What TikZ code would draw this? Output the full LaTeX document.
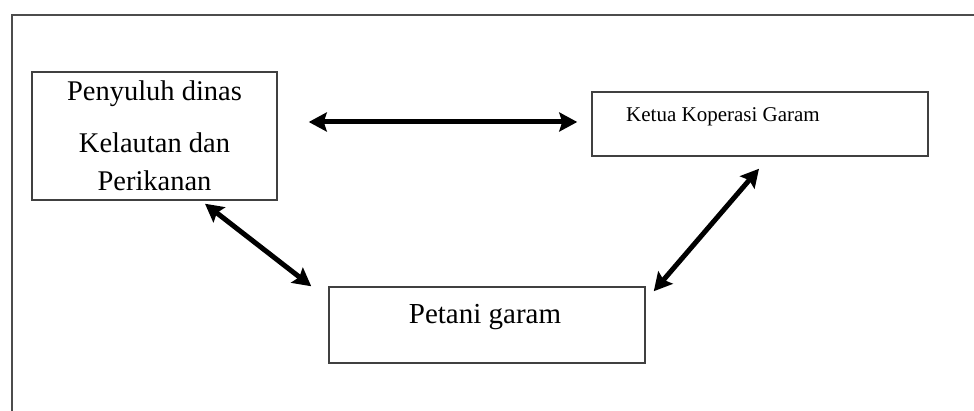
\documentclass[tikz,border=0pt]{standalone}
\usepackage{fontspec}
\setmainfont{Liberation Serif}
\usetikzlibrary{arrows.meta}
\begin{document}
\begin{tikzpicture}[x=1pt,y=-1pt,
  boxstyle/.style={draw=black!75,line width=1.5pt,inner sep=0pt},
  arr/.style={line width=5pt,{Stealth[length=18pt,width=19pt,inset=3pt]}-{Stealth[length=18pt,width=19pt,inset=3pt]}},
  framestyle/.style={draw=black!70,line width=2pt}]
\useasboundingbox (0,0) rectangle (974,411);
% frame
\coordinate (fbl) at (12,411);
\coordinate (ftl) at (12,15);
\coordinate (ftr) at (974,15);
\draw[framestyle] (fbl) -- (ftl) -- (ftr);
% boxes
\node[boxstyle,minimum width=245pt,minimum height=128pt,align=center,
      font=\fontsize{28.5}{38}\selectfont] (penyuluh) at (154.5,136)
      {Penyuluh dinas\\[14pt]Kelautan dan\\Perikanan};
\node[boxstyle,minimum width=336pt,minimum height=64pt] (ketua) at (760,124) {};
\node[anchor=base west,inner sep=0pt,font=\fontsize{21}{25}\selectfont] (ketuatext) at (626,122) {Ketua Koperasi Garam};
\node[boxstyle,minimum width=316pt,minimum height=76pt] (petani) at (487,325) {};
\node[anchor=base,inner sep=0pt,font=\fontsize{29}{34}\selectfont] (petanitext) at (485,324) {Petani garam};
% connectors
\draw[arr] ([xshift=31pt,yshift=14pt]penyuluh.east) -- ([xshift=-14pt,yshift=2pt]ketua.west);
\draw[arr] ([xshift=50.5pt,yshift=-3pt]penyuluh.south) -- ([xshift=-17pt]petani.north west);
\draw[arr] ([xshift=-1pt,yshift=-12pt]ketua.south) -- ([xshift=8pt,yshift=-5pt]petani.north east);
\end{tikzpicture}
\end{document}
